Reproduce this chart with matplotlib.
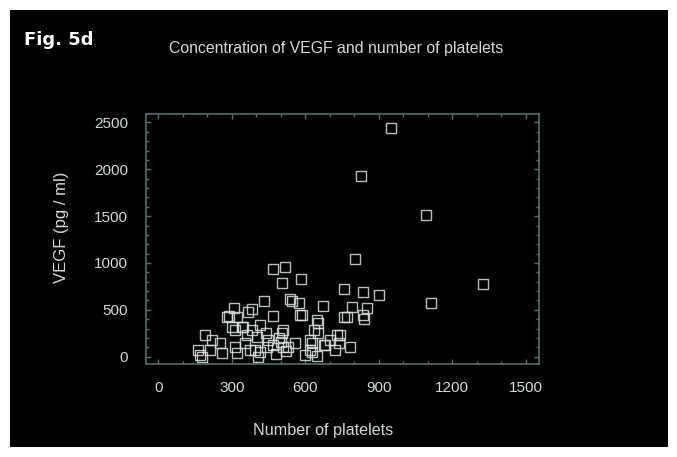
import matplotlib
matplotlib.use("Agg")
import matplotlib.pyplot as plt
from matplotlib.patches import Rectangle
from matplotlib.ticker import MultipleLocator

# platelet count vs VEGF concentration
platelets = [
    949, 828, 1092, 1325, 1114, 803,
    470, 518, 505, 582,
    759, 838, 903, 790, 854, 759, 840, 783, 743,
    672, 430, 382, 311, 287, 470, 545, 586, 539, 576, 647, 729, 634, 511,
    620, 675, 620, 722,
    189, 164, 178, 253, 314, 348, 382, 314, 355, 396, 409, 260, 219,
    212, 171, 280, 321, 368, 300, 341, 416, 362, 403, 321, 375, 416, 443,
    505, 511, 579, 654, 654, 681, 770, 838, 627, 559, 627,
    450, 480, 500, 520, 440, 470, 495, 530, 600, 650, 700, 740,
]
vegf = [
    2446, 1927, 1517, 776, 570, 1040,
    933, 955, 790, 827,
    720, 694, 659, 534, 517, 427, 399, 107, 232,
    541, 598, 506, 517, 435, 435, 598, 445, 613, 570, 392, 232, 285, 285,
    178, 125, 72, 72,
    232, 72, 0, 143, 285, 320, 285, 107, 143, 72, 0, 40, 178,
    72, 18, 427, 427, 480, 320, 320, 338, 232, 214, 36, 72, 53, 107,
    250, 107, 445, 357, 250, 125, 427, 445, 53, 143, 143,
    180, 30, 160, 60, 250, 120, 200, 100, 20, 10, 180, 150,
]

x_ticks = [0, 300, 600, 900, 1200, 1500]
y_ticks = [0, 500, 1000, 1500, 2000, 2500]

TEXT = "#d2dad8"
AXIS = "#4f6e6c"

plt.rcParams["font.family"] = ["Liberation Sans", "DejaVu Sans"]

fig = plt.figure(figsize=(6.77, 4.57), dpi=100)
fig.patch.set_facecolor("white")
fig.patches.append(Rectangle((0.0148, 0.0219), 0.9719, 0.9562,
                             transform=fig.transFigure, facecolor="black",
                             edgecolor="none", zorder=-10))

ax = fig.add_axes([0.2157, 0.2035, 0.5805, 0.547])
ax.set_facecolor("black")
ax.plot(platelets, vegf, linestyle="none", marker="s", markersize=7,
        markerfacecolor="none", markeredgecolor="#d8e2e0", markeredgewidth=1.0,
        alpha=0.85)

ax.set_xlim(-50, 1555)
ax.set_ylim(-78, 2590)
ax.set_xticks(x_ticks)
ax.set_yticks(y_ticks)
ax.xaxis.set_minor_locator(MultipleLocator(100))
ax.yaxis.set_minor_locator(MultipleLocator(100))
ax.tick_params(which="both", direction="in", top=True, right=True,
               color=AXIS, width=1.0)
ax.tick_params(which="major", length=3.5)
ax.tick_params(which="minor", length=2.5)
ax.tick_params(axis="x", which="major", pad=12, labelsize=11, labelcolor=TEXT)
ax.tick_params(axis="y", which="major", pad=13, labelsize=11, labelcolor=TEXT)
for sp in ax.spines.values():
    sp.set_color(AXIS)
    sp.set_linewidth(1.2)

fig.text(0.036, 0.912, "Fig. 5d", color="white", fontsize=13,
         fontweight="bold", family=["DejaVu Sans"], ha="left", va="center")
fig.text(0.497, 0.893, "Concentration of VEGF and number of platelets",
         color=TEXT, fontsize=11.4, ha="center", va="center")
fig.text(0.091, 0.503, "VEGF (pg / ml)", color=TEXT, fontsize=12,
         rotation=90, ha="center", va="center")
fig.text(0.478, 0.059, "Number of platelets", color=TEXT, fontsize=11.6,
         ha="center", va="center")

fig.savefig("out.png", dpi=100, facecolor=fig.get_facecolor())
